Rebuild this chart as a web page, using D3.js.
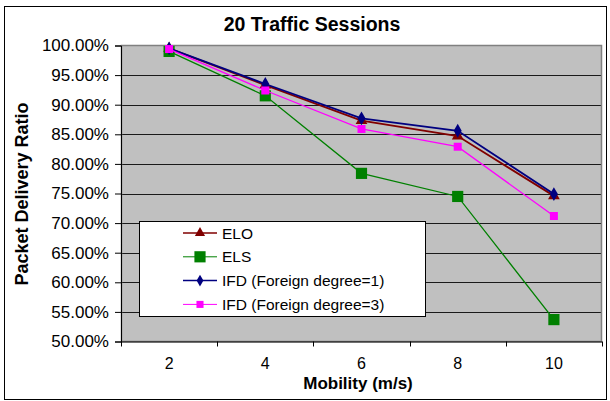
<!DOCTYPE html>
<html>
<head>
<meta charset="utf-8">
<script src="https://cdn.jsdelivr.net/npm/d3@7/dist/d3.min.js"></script>
<style>
  html, body { margin: 0; padding: 0; background: #fff; }
  svg { display: block; font-family: "Liberation Sans", Arial, sans-serif; }
</style>
</head>
<body>
<svg id="chart" width="610" height="401"></svg>
<script>
// Mobility (m/s) categories
const mobility = ["2", "4", "6", "8", "10"];
// Packet delivery ratio per protocol
const elo  = [0.995, 0.933, 0.873, 0.847, 0.746];
const els  = [0.990, 0.915, 0.784, 0.745, 0.537];
const ifd1 = [0.995, 0.935, 0.877, 0.856, 0.749];
const ifd3 = [0.994, 0.924, 0.859, 0.829, 0.712];
const yTicks = [0.50, 0.55, 0.60, 0.65, 0.70, 0.75, 0.80, 0.85, 0.90, 0.95, 1.00];

const series = [
  { name: "ELO", values: elo, color: "#800000", width: 1.8, symbol: d3.symbolTriangle, size: 60, lsize: 45 },
  { name: "ELS", values: els, color: "#008000", width: 1.3, symbol: d3.symbolSquare, size: 125, lsize: 125 },
  { name: "IFD (Foreign degree=1)", values: ifd1, color: "#000080", width: 1.8, symbol: d3.symbolDiamond, size: 55, lsize: 40 },
  { name: "IFD (Foreign degree=3)", values: ifd3, color: "#ff00ff", width: 1.3, symbol: d3.symbolSquare, size: 64, lsize: 50 }
];

const svg = d3.select("#chart");
const plot = { left: 121, right: 602, top: 45.5, bottom: 341.5 };

// Outer chart frame
svg.append("rect")
  .attr("x", 4.5).attr("y", 6.5).attr("width", 602).attr("height", 393)
  .attr("fill", "#fff").attr("stroke", "#000").attr("stroke-width", 1);

const x = d3.scaleBand().domain(mobility).range([plot.left, plot.right]).padding(0);
const y = d3.scaleLinear().domain([0.5, 1.0]).range([plot.bottom, plot.top]);

// Plot area
svg.append("rect")
  .attr("x", plot.left).attr("y", plot.top)
  .attr("width", plot.right - plot.left).attr("height", plot.bottom - plot.top)
  .attr("fill", "#c0c0c0");

// Horizontal gridlines
svg.append("g").selectAll("line")
  .data(yTicks.filter(t => t > 0.5 && t < 1.0))
  .join("line")
  .attr("x1", plot.left).attr("x2", plot.right)
  .attr("y1", d => Math.round(y(d)) + 0.5).attr("y2", d => Math.round(y(d)) + 0.5)
  .attr("stroke", "#1a1a1a").attr("stroke-width", 1);

// Plot border
svg.append("rect")
  .attr("x", plot.left + 0.5).attr("y", plot.top)
  .attr("width", plot.right - plot.left - 1).attr("height", plot.bottom - plot.top)
  .attr("fill", "none").attr("stroke", "#808080").attr("stroke-width", 1.5);

// Y axis
const yAxis = d3.axisLeft(y).tickValues(yTicks).tickSize(6).tickPadding(6)
  .tickFormat(d => (d * 100).toFixed(2) + "%");
const gy = svg.append("g").attr("transform", `translate(${plot.left},0)`).call(yAxis);
gy.select(".domain").attr("stroke", "#000");
gy.selectAll(".tick line").attr("stroke", "#000");
gy.selectAll(".tick text").attr("font-size", 17).attr("fill", "#000")
  .attr("font-family", "'Liberation Sans', Arial, sans-serif");

// X axis with ticks on category boundaries
const gx = svg.append("g").attr("transform", `translate(0,${plot.bottom})`);
gx.append("line").attr("x1", plot.left).attr("x2", plot.right).attr("y1", 0.5).attr("y2", 0.5).attr("stroke", "#000");
const bounds = mobility.map(m => x(m)).concat([plot.right]);
gx.selectAll("line.tk").data(bounds).join("line").attr("class", "tk")
  .attr("x1", d => Math.round(d) + 0.5).attr("x2", d => Math.round(d) + 0.5)
  .attr("y1", 0).attr("y2", 5).attr("stroke", "#000");
gx.selectAll("text").data(mobility).join("text")
  .attr("x", d => x(d) + x.bandwidth() / 2).attr("y", 27)
  .attr("text-anchor", "middle").attr("font-size", 16).attr("fill", "#000")
  .text(d => d);

// Titles
svg.append("text").attr("x", 312).attr("y", 31).attr("text-anchor", "middle")
  .attr("font-size", 19.5).attr("font-weight", "bold").text("20 Traffic Sessions");
svg.append("text").attr("x", 358).attr("y", 389).attr("text-anchor", "middle")
  .attr("font-size", 17).attr("font-weight", "bold").text("Mobility (m/s)");
svg.append("text").attr("transform", "translate(28,194) rotate(-90)")
  .attr("text-anchor", "middle").attr("font-size", 18).attr("font-weight", "bold")
  .text("Packet Delivery Ratio");

// Series lines and markers
const cx = (d, i) => x(mobility[i]) + x.bandwidth() / 2;
const line = d3.line().x((d, i) => cx(d, i)).y(d => y(d));
series.forEach(s => {
  const g = svg.append("g");
  g.append("path").datum(s.values).attr("d", line)
    .attr("fill", "none").attr("stroke", s.color).attr("stroke-width", s.width);
  g.selectAll("path.m").data(s.values).join("path").attr("class", "m")
    .attr("transform", (d, i) => `translate(${cx(d, i)},${y(d)})`)
    .attr("d", d3.symbol().type(s.symbol).size(s.size))
    .attr("fill", s.color);
});

// Legend
const lg = svg.append("g");
lg.append("rect").attr("x", 139.5).attr("y", 221.5).attr("width", 286).attr("height", 95)
  .attr("fill", "#fff").attr("stroke", "#000").attr("stroke-width", 1);
series.forEach((s, i) => {
  const ly = 233 + i * 23.8;
  lg.append("line").attr("x1", 183).attr("x2", 217).attr("y1", ly).attr("y2", ly)
    .attr("stroke", s.color).attr("stroke-width", s.width - 0.3);
  lg.append("path").attr("transform", `translate(200,${ly})`)
    .attr("d", d3.symbol().type(s.symbol).size(s.lsize)).attr("fill", s.color);
  lg.append("text").attr("x", 222).attr("y", ly + 5.5).attr("font-size", 15.5).text(s.name);
});
</script>
</body>
</html>
